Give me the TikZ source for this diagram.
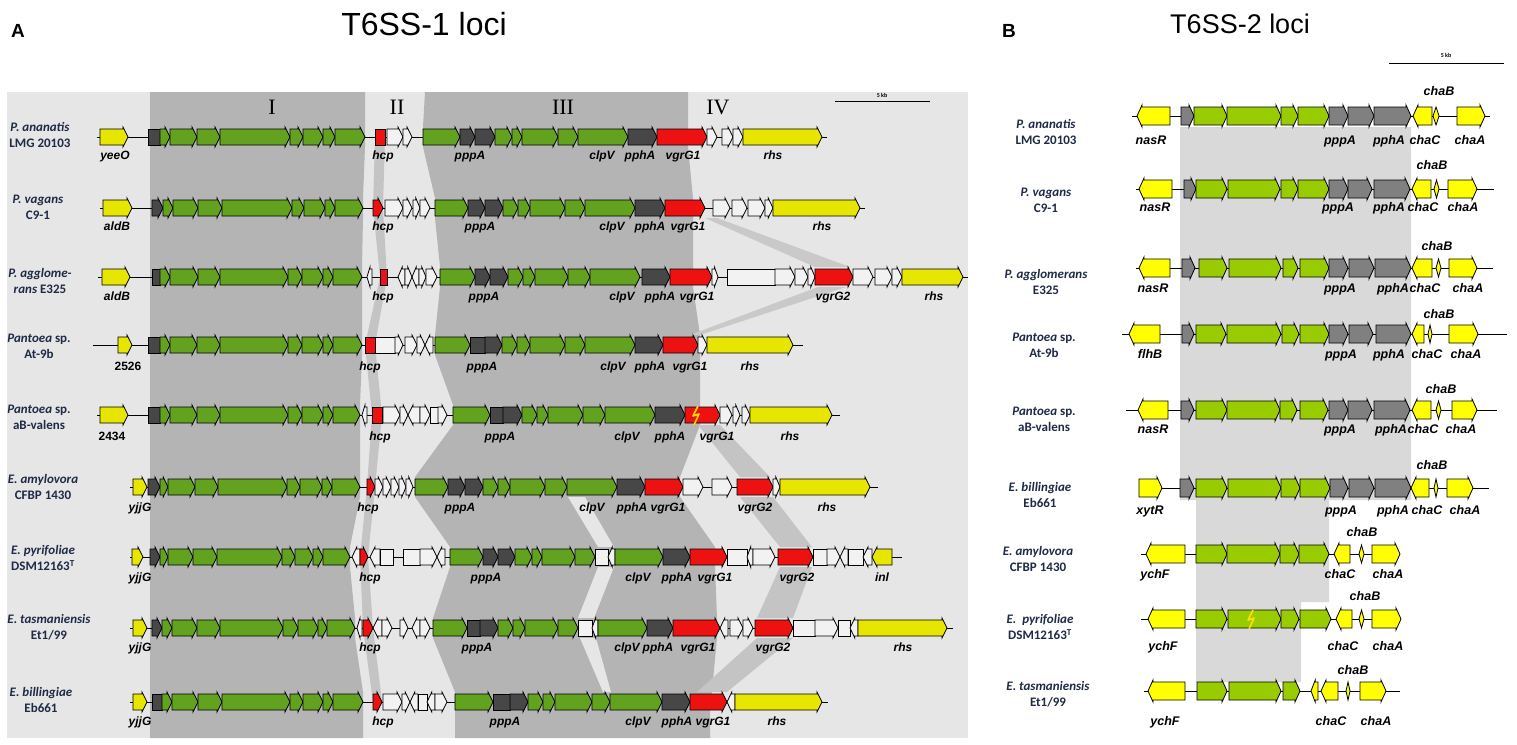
\documentclass[tikz,border=0pt]{standalone}
\usepackage{fontspec}
\setmainfont{Liberation Sans}
\newfontfamily\calfont{Carlito}
\newfontfamily\romfont{Liberation Serif}

\definecolor{bgA}{HTML}{E6E6E6}
\definecolor{shadeA}{HTML}{B4B4B4}
\definecolor{bandA}{HTML}{C4C4C4}
\definecolor{shadeB}{HTML}{D9D9D9}
\definecolor{gA}{HTML}{62A21E}
\definecolor{kA}{HTML}{474747}
\definecolor{rA}{HTML}{EE1111}
\definecolor{wA}{HTML}{F2F2F2}
\definecolor{yA}{HTML}{E6E600}
\definecolor{gB}{HTML}{99CC00}
\definecolor{kB}{HTML}{808080}
\definecolor{yB}{HTML}{FFFF00}
\definecolor{spc}{HTML}{1E2A46}
\definecolor{boltc}{HTML}{FFE000}

\tikzset{
  genebox/.style={draw=black, line width=0.8pt, line join=miter},
  backbone/.style={draw=black, line width=0.9pt},
  glab/.style={font=\bfseries\itshape\fontsize{12}{13}\selectfont, inner sep=0pt, text height=8.5pt, text depth=2.5pt},
  glabB/.style={font=\bfseries\itshape\fontsize{12.5}{13}\selectfont, inner sep=0pt, text height=9pt, text depth=3pt},
  spec/.style={font=\calfont\bfseries\fontsize{13}{16}\selectfont, text=spc, align=center, inner sep=0pt},
  region/.style={font=\romfont\fontsize{22}{24}\selectfont, inner sep=0pt},
  title/.style={font=\fontsize{32}{34}\selectfont, inner sep=0pt},
  panel/.style={font=\bfseries\fontsize{19}{20}\selectfont, inner sep=0pt},
  sbtext/.style={font=\calfont\bfseries\fontsize{6}{7}\selectfont, inner sep=0pt},
  boltline/.style={draw=boltc, line width=1.6pt, line join=round},
}

% gene arrow: x1, x2, y, colour, r/l/b/d
\newcommand{\gene}[5]{%
  \pgfmathsetmacro{\hd}{min(5,0.6*(#2-#1))}%
  \if r#5
    \draw[genebox,fill=#4] (#1,#3-\hh) -- (#2-\hd,#3-\hh) -- (#2-\hd,#3-\hh-2) -- (#2,#3)
      -- (#2-\hd,#3+\hh+2) -- (#2-\hd,#3+\hh) -- (#1,#3+\hh) -- cycle;
  \fi
  \if l#5
    \draw[genebox,fill=#4] (#2,#3-\hh) -- (#1+\hd,#3-\hh) -- (#1+\hd,#3-\hh-2) -- (#1,#3)
      -- (#1+\hd,#3+\hh+2) -- (#1+\hd,#3+\hh) -- (#2,#3+\hh) -- cycle;
  \fi
  \if b#5
    \draw[genebox,fill=#4] (#1,#3-\hh) rectangle (#2,#3+\hh);
  \fi
  \if d#5
    \draw[genebox,fill=#4] (#1,#3) -- ({(#1+#2)/2},#3-\hh) -- (#2,#3) -- ({(#1+#2)/2},#3+\hh) -- cycle;
  \fi
}
\newcommand{\bolt}[2]{\draw[boltline] (#1+2,#2-9) -- (#1-3,#2+1) -- (#1+3,#2-1) -- (#1-2,#2+10);}

\begin{document}
\begin{tikzpicture}[x=1pt, y=-1pt]
\useasboundingbox (0,0) rectangle (1517,744);
\fill[white] (0,0) rectangle (1517,744);

% ---------------- panel A ----------------
\node[panel] (lblA) at (18,31) {A};
\node[title] (titleA) at (424,24) {T6SS-1 loci};

\fill[bgA] (7,92) rectangle (968,738);
% region I
\fill[shadeA] (150,92) -- (365,92) -- (365,147) -- (363,198) -- (363,218) -- (362,267) -- (362,355)
  -- (360,405) -- (360,497) -- (350,547) -- (350,567) -- (355,618) -- (355,638) -- (363,692)
  -- (363,738) -- (150,738) -- cycle;
% region III
\fill[shadeA] (425,92) -- (423,127) -- (423,147) -- (435,198) -- (435,218) -- (440,267) -- (440,287)
  -- (435,335) -- (435,355) -- (453,405) -- (453,425) -- (415,477) -- (415,497) -- (450,547)
  -- (450,567) -- (433,618) -- (433,638) -- (455,692) -- (455,738) -- (710,738) -- (710,712)
  -- (717,638) -- (717,618) -- (715,567) -- (715,547) -- (680,497) -- (680,477) -- (700,425)
  -- (700,335) -- (693,287) -- (693,198) -- (688,147) -- (688,92) -- cycle;
\fill[bgA] (568,497) -- (585,497) -- (614,547) -- (598,547) -- cycle;
\fill[bgA] (598,567) -- (614,567) -- (594,618) -- (578,618) -- cycle;
\fill[bgA] (580,638) -- (596,638) -- (611,692) -- (603,692) -- cycle;
% hcp band
\fill[bandA] (375,137) -- (373,208) -- (380,277) -- (365,345) -- (372,415) -- (367,487) -- (360,557)
  -- (363,628) -- (373,702) -- (382,702) -- (373,628) -- (368,557) -- (375,487) -- (382,415)
  -- (375,345) -- (387,277) -- (383,208) -- (385,137) -- cycle;
% vgrG bands
\fill[bandA!85!bgA] (705,218) -- (717,218) -- (850,267) -- (815,267) -- cycle;
\fill[bandA!85!bgA] (818,287) -- (846,287) -- (700,335) -- (690,335) -- cycle;
\fill[bandA] (698,425) -- (720,425) -- (770,477) -- (740,477) -- cycle;
\fill[bandA] (740,497) -- (773,497) -- (812,547) -- (780,547) -- cycle;
\fill[bandA] (780,567) -- (812,567) -- (793,618) -- (757,618) -- cycle;
\fill[bandA] (757,638) -- (793,638) -- (727,692) -- (697,692) -- cycle;

\node[region] (regI) at (272,107) {I};
\node[region] (regII) at (397,107) {II};
\node[region] (regIII) at (563,107) {III};
\node[region] (regIV) at (718,107) {IV};
\coordinate (sbA1) at (835,101);
\coordinate (sbA2) at (930,101);
\draw[line width=1pt] (sbA1) -- (sbA2);
\node[sbtext] (sbAt) at (882,95) {5 kb};

\def\hh{8}
% row 1
\draw[backbone] (97,137) -- (827,137);
\foreach \xa/\xb/\cl/\dr in {100/128/yA/r, 148/160/kA/b, 160/170/gA/r, 170/197/gA/r, 197/220/gA/r,
  220/290/gA/r, 290/303/gA/r, 303/323/gA/r, 323/335/gA/r, 335/365/gA/r, 375/385/rA/b, 387/403/wA/r,
  403/412/wA/r, 423/460/gA/r, 460/475/kA/r, 475/495/kA/r, 495/512/gA/r, 512/522/gA/r, 522/558/gA/r,
  558/578/gA/r, 578/628/gA/r, 628/657/kA/r, 657/707/rA/r, 707/717/wA/r, 722/733/wA/r, 733/743/wA/r,
  743/822/yA/r}
  {\gene{\xa}{\xb}{137}{\cl}{\dr}}
\foreach \xl/\tl [count=\i] in {115/yeeO, 383/hcp, 470/pppA, 602/clpV, 640/pphA, 683/vgrG1, 773/rhs}
  {\node[glab] (a1-\i) at (\xl,156) {\tl};}
\node[spec] (spA1) at (40,135) {\textit{P. ananatis}\\LMG 20103};

% row 2
\draw[backbone] (100,208) -- (865,208);
\foreach \xa/\xb/\cl/\dr in {103/132/yA/r, 152/163/kA/r, 163/173/gA/r, 173/198/gA/r, 198/222/gA/r,
  222/292/gA/r, 292/304/gA/r, 304/325/gA/r, 325/335/gA/r, 335/363/gA/r, 373/383/rA/r, 385/403/wA/r,
  403/412/wA/r, 413/420/wA/r, 420/430/wA/r, 435/468/gA/r, 468/485/kA/r, 485/503/kA/r, 503/518/gA/r,
  518/530/gA/r, 530/565/gA/r, 565/585/gA/r, 585/635/gA/r, 635/665/kA/r, 665/705/rA/r, 713/730/wA/r,
  732/747/wA/r, 748/765/wA/r, 765/773/wA/r, 773/860/yA/r}
  {\gene{\xa}{\xb}{208}{\cl}{\dr}}
\foreach \xl/\tl [count=\i] in {117/aldB, 383/hcp, 480/pppA, 612/clpV, 650/pphA, 688/vgrG1, 822/rhs}
  {\node[glab] (a2-\i) at (\xl,227) {\tl};}
\node[spec] (spA2) at (38,207) {\textit{P. vagans}\\C9-1};

% row 3
\draw[backbone] (98,277) -- (968,277);
\foreach \xa/\xb/\cl/\dr in {102/130/yA/r, 152/160/kA/b, 160/170/gA/r, 170/198/gA/r, 198/220/gA/r,
  220/288/gA/r, 288/302/gA/r, 302/323/gA/r, 323/333/gA/r, 333/362/gA/r, 367/372/wA/l, 380/387/rA/b,
  398/405/wA/l, 405/412/wA/r, 412/419/wA/l, 419/426/wA/r, 426/437/wA/r, 440/475/gA/r, 475/490/kA/r,
  490/508/kA/r, 508/523/gA/r, 523/535/gA/r, 535/568/gA/r, 568/590/gA/r, 590/640/gA/r, 642/670/kA/r,
  670/712/rA/r, 712/718/wA/r, 727/775/wA/b, 775/795/wA/r, 795/808/wA/r, 808/815/wA/r, 815/853/rA/r,
  853/873/wA/r, 875/892/wA/r, 892/902/wA/r, 902/963/yA/r}
  {\gene{\xa}{\xb}{277}{\cl}{\dr}}
\foreach \xl/\tl [count=\i] in {117/aldB, 383/hcp, 484/pppA, 622/clpV, 660/pphA, 697/vgrG1, 833/vgrG2, 934/rhs}
  {\node[glab] (a3-\i) at (\xl,297) {\tl};}
\node[spec] (spA3) at (40,281) {\textit{P. agglome-}\\\textit{rans} E325};

% row 4
\draw[backbone] (93,345) -- (803,345);
\foreach \xa/\xb/\cl/\dr in {118/132/yA/r, 148/160/kA/b, 160/170/gA/r, 170/197/gA/r, 197/220/gA/r,
  220/288/gA/r, 288/302/gA/r, 302/323/gA/r, 323/333/gA/r, 333/362/gA/r, 365/375/rA/b, 375/395/wA/b,
  395/403/wA/r, 405/417/wA/r, 417/425/wA/r, 425/433/wA/l, 435/470/gA/r, 470/485/kA/b, 485/502/kA/r,
  502/517/gA/r, 517/530/gA/r, 530/565/gA/r, 565/585/gA/r, 585/635/gA/r, 635/663/kA/r, 663/698/rA/r,
  698/707/wA/r, 707/793/yA/r}
  {\gene{\xa}{\xb}{345}{\cl}{\dr}}
\foreach \xl/\tl [count=\i] in {128/{\upshape 2526}, 370/hcp, 482/pppA, 613/clpV, 650/pphA, 690/vgrG1, 750/rhs}
  {\node[glab] (a4-\i) at (\xl,367) {\tl};}
\node[spec] (spA4) at (39,346) {\textit{Pantoea} sp.\\At-9b};

% row 5
\draw[backbone] (97,415) -- (840,415);
\foreach \xa/\xb/\cl/\dr in {100/128/yA/r, 148/160/kA/b, 160/170/gA/r, 170/197/gA/r, 197/220/gA/r,
  220/288/gA/r, 288/302/gA/r, 302/323/gA/r, 323/333/gA/r, 333/360/gA/r, 362/367/wA/l, 372/382/rA/b,
  383/400/wA/r, 400/408/wA/r, 408/420/wA/l, 420/430/wA/r, 430/438/wA/b, 438/447/wA/r, 453/490/gA/r,
  490/503/kA/b, 503/522/kA/r, 522/537/gA/r, 537/548/gA/r, 548/583/gA/r, 583/605/gA/r, 605/655/gA/r,
  655/685/kA/r, 685/720/rA/r, 720/732/wA/r, 733/740/wA/r, 742/750/wA/r, 750/832/yA/r}
  {\gene{\xa}{\xb}{415}{\cl}{\dr}}
\bolt{696}{415}
\foreach \xl/\tl [count=\i] in {112/{\upshape 2434}, 380/hcp, 500/pppA, 627/clpV, 670/pphA, 717/vgrG1, 790/rhs}
  {\node[glab] (a5-\i) at (\xl,437) {\tl};}
\node[spec] (spA5) at (39,417) {\textit{Pantoea} sp.\\aB-valens};

% row 6
\draw[backbone] (130,487) -- (878,487);
\foreach \xa/\xb/\cl/\dr in {133/147/yA/r, 148/160/kA/r, 160/168/gA/r, 168/195/gA/r, 195/218/gA/r,
  218/287/gA/r, 287/300/gA/r, 300/322/gA/r, 322/332/gA/r, 332/360/gA/r, 367/375/rA/r, 375/383/wA/r,
  383/391/wA/r, 391/399/wA/r, 399/406/wA/r, 406/413/wA/r, 415/448/gA/r, 448/465/kA/r, 465/483/kA/r,
  483/498/gA/r, 498/510/gA/r, 510/545/gA/r, 545/567/gA/r, 567/617/gA/r, 617/645/kA/r, 645/683/rA/r,
  683/703/wA/r, 712/732/wA/r, 737/773/rA/r, 773/780/wA/r, 780/870/yA/r}
  {\gene{\xa}{\xb}{487}{\cl}{\dr}}
\foreach \xl/\tl [count=\i] in {140/yjjG, 368/hcp, 460/pppA, 592/clpV, 632/pphA, 668/vgrG1, 755/vgrG2, 827/rhs}
  {\node[glab] (a6-\i) at (\xl,508) {\tl};}
\node[spec] (spA6) at (43,487) {\textit{E. amylovora}\\CFBP 1430};

% row 7
\draw[backbone] (130,557) -- (902,557);
\foreach \xa/\xb/\cl/\dr in {132/143/yA/r, 150/160/kA/r, 160/168/gA/r, 168/193/gA/r, 193/217/gA/r,
  217/282/gA/r, 282/295/gA/r, 295/313/gA/r, 313/323/gA/r, 323/350/gA/r, 352/360/wA/l, 360/368/rA/r,
  370/380/wA/l, 380/393/wA/b, 403/420/wA/b, 420/437/wA/r, 437/445/wA/l, 450/483/gA/r, 483/498/kA/r,
  498/515/kA/r, 515/532/gA/r, 532/542/gA/r, 542/575/gA/r, 575/595/gA/r, 595/608/wA/b, 608/615/wA/l,
  615/663/gA/r, 663/690/kA/r, 690/727/rA/r, 727/747/wA/b, 747/753/wA/l, 753/775/wA/r, 778/813/rA/r,
  813/827/wA/b, 827/840/wA/r, 840/848/wA/l, 848/863/wA/b, 863/872/wA/l, 872/892/yA/l}
  {\gene{\xa}{\xb}{557}{\cl}{\dr}}
\foreach \xl/\tl [count=\i] in {140/yjjG, 370/hcp, 486/pppA, 638/clpV, 677/pphA, 715/vgrG1, 797/vgrG2, 882/inl}
  {\node[glab] (a7-\i) at (\xl,578) {\tl};}
\node[spec] (spA7) at (43,558) {\textit{E. pyrifoliae}\\DSM12163\textsuperscript{T}};

% row 8
\draw[backbone] (130,628) -- (953,628);
\foreach \xa/\xb/\cl/\dr in {133/147/yA/r, 152/162/kA/r, 162/172/gA/r, 172/197/gA/r, 197/220/gA/r,
  220/283/gA/r, 283/298/gA/r, 298/318/gA/r, 318/327/gA/r, 327/355/gA/r, 357/362/wA/l, 363/373/rA/r,
  373/382/wA/l, 382/392/wA/r, 400/408/wA/r, 412/420/wA/l, 420/430/wA/r, 433/467/gA/r, 467/480/kA/b,
  480/498/kA/r, 498/513/gA/r, 513/525/gA/r, 525/558/gA/r, 558/578/gA/r, 578/592/wA/b, 592/598/wA/l,
  598/647/gA/r, 647/673/kA/r, 673/720/rA/r, 720/728/wA/l, 730/743/wA/r, 743/753/wA/r, 755/793/rA/r,
  793/815/wA/b, 815/838/wA/r, 838/850/wA/b, 850/858/wA/l, 858/947/yA/r}
  {\gene{\xa}{\xb}{628}{\cl}{\dr}}
\foreach \xl/\tl [count=\i] in {140/yjjG, 370/hcp, 477/pppA, 627/clpV, 658/pphA, 698/vgrG1, 773/vgrG2, 903/rhs}
  {\node[glab] (a8-\i) at (\xl,648) {\tl};}
\node[spec] (spA8) at (49,627) {\textit{E. tasmaniensis}\\Et1/99};

% row 9
\draw[backbone] (130,702) -- (828,702);
\foreach \xa/\xb/\cl/\dr in {133/147/yA/r, 152/162/kA/b, 162/172/gA/r, 172/198/gA/r, 198/222/gA/r,
  222/290/gA/r, 290/303/gA/r, 303/323/gA/r, 323/333/gA/r, 333/363/gA/r, 373/382/rA/r, 383/402/wA/r,
  402/410/wA/r, 410/418/wA/l, 418/427/wA/b, 427/435/wA/l, 435/447/wA/r, 455/493/gA/r, 493/510/kA/b,
  510/528/kA/r, 528/543/gA/r, 543/555/gA/r, 555/592/gA/r, 592/610/gA/r, 610/662/gA/r, 662/690/kA/r,
  690/727/rA/r, 727/735/wA/l, 735/822/yA/r}
  {\gene{\xa}{\xb}{702}{\cl}{\dr}}
\foreach \xl/\tl [count=\i] in {140/yjjG, 383/hcp, 505/pppA, 638/clpV, 677/pphA, 713/vgrG1, 777/rhs}
  {\node[glab] (a9-\i) at (\xl,722) {\tl};}
\node[spec] (spA9) at (41,700) {\textit{E. billingiae}\\Eb661};

% ---------------- panel B ----------------
\node[panel] (lblB) at (1009,31) {B};
\node[title, font=\fontsize{27}{30}\selectfont] (titleB) at (1240,24) {T6SS-2 loci};
\coordinate (sbB1) at (1389,63);
\coordinate (sbB2) at (1504,63);
\draw[line width=1pt] (sbB1) -- (sbB2);
\node[sbtext] (sbBt) at (1446,55) {5 kb};

\fill[shadeB] (1180,127) -- (1411,127) -- (1411,500) -- (1329,500) -- (1329,602) -- (1301,602)
  -- (1301,682) -- (1196,682) -- (1196,500) -- (1180,500) -- cycle;

\def\hh{9}
% row B1
\draw[backbone] (1132,116) -- (1490,116);
\foreach \xa/\xb/\cl/\dr in {1137/1170/yB/l, 1181/1194/kB/r, 1194/1227/gB/r, 1227/1281/gB/r,
  1281/1298/gB/r, 1298/1329/gB/r, 1329/1348/kB/r, 1348/1374/kB/r, 1374/1411/kB/r, 1413/1432/yB/l,
  1433/1439/yB/d, 1457/1485/yB/r}
  {\gene{\xa}{\xb}{116}{\cl}{\dr}}
\foreach \xl/\tl [count=\i] in {1151/nasR, 1340/pppA, 1389/pphA, 1425/chaC, 1470/chaA}
  {\node[glabB] (b1-\i) at (\xl,141) {\tl};}
\node[glabB] (b1-chaB) at (1439,92) {chaB};
\node[spec] (spB1) at (1046,132) {\textit{P. ananatis}\\LMG 20103};

% row B2
\draw[backbone] (1136,189) -- (1494,189);
\foreach \xa/\xb/\cl/\dr in {1139/1172/yB/l, 1184/1196/kB/r, 1196/1227/gB/r, 1228/1280/gB/r,
  1281/1298/gB/r, 1298/1329/gB/r, 1329/1348/kB/r, 1348/1372/kB/r, 1374/1410/kB/r, 1412/1431/yB/l,
  1434/1439/yB/d, 1448/1477/yB/r}
  {\gene{\xa}{\xb}{189}{\cl}{\dr}}
\foreach \xl/\tl [count=\i] in {1155/nasR, 1338/pppA, 1389/pphA, 1423/chaC, 1463/chaA}
  {\node[glabB] (b2-\i) at (\xl,208) {\tl};}
\node[glabB] (b2-chaB) at (1432,166) {chaB};
\node[spec] (spB2) at (1046,200) {\textit{P. vagans}\\C9-1};

% row B3
\draw[backbone] (1136,268) -- (1493,268);
\foreach \xa/\xb/\cl/\dr in {1139/1170/yB/l, 1182/1195/kB/r, 1199/1227/gB/r, 1229/1281/gB/r,
  1283/1298/gB/r, 1300/1329/gB/r, 1329/1348/kB/r, 1349/1374/kB/r, 1375/1411/kB/r, 1412/1432/yB/l,
  1436/1441/yB/d, 1449/1477/yB/r}
  {\gene{\xa}{\xb}{268}{\cl}{\dr}}
\foreach \xl/\tl [count=\i] in {1153/nasR, 1340/pppA, 1393/pphA, 1425/chaC, 1468/chaA}
  {\node[glabB] (b3-\i) at (\xl,289) {\tl};}
\node[glabB] (b3-chaB) at (1437,247) {chaB};
\node[spec] (spB3) at (1046,282) {\textit{P. agglomerans}\\E325};

% row B4
\draw[backbone] (1122,334) -- (1507,334);
\foreach \xa/\xb/\cl/\dr in {1129/1160/yB/l, 1182/1194/kB/r, 1196/1226/gB/r, 1227/1281/gB/r,
  1282/1299/gB/r, 1300/1329/gB/r, 1329/1348/kB/r, 1349/1373/kB/r, 1376/1411/kB/r, 1412/1424/yB/l,
  1428/1432/yB/d, 1449/1478/yB/r}
  {\gene{\xa}{\xb}{334}{\cl}{\dr}}
\foreach \xl/\tl [count=\i] in {1150/flhB, 1341/pppA, 1389/pphA, 1427/chaC, 1466/chaA}
  {\node[glabB] (b4-\i) at (\xl,355) {\tl};}
\node[glabB] (b4-chaB) at (1439,315) {chaB};
\node[spec] (spB4) at (1044,345) {\textit{Pantoea} sp.\\At-9b};

% row B5
\draw[backbone] (1126,410) -- (1497,410);
\foreach \xa/\xb/\cl/\dr in {1138/1168/yB/l, 1181/1194/kB/r, 1196/1227/gB/r, 1227/1280/gB/r,
  1280/1297/gB/r, 1300/1328/gB/r, 1329/1348/kB/r, 1348/1372/kB/r, 1374/1410/kB/r, 1412/1431/yB/l,
  1436/1441/yB/d, 1452/1477/yB/r}
  {\gene{\xa}{\xb}{410}{\cl}{\dr}}
\foreach \xl/\tl [count=\i] in {1153/nasR, 1340/pppA, 1391/pphA, 1423/chaC, 1461/chaA}
  {\node[glabB] (b5-\i) at (\xl,430) {\tl};}
\node[glabB] (b5-chaB) at (1441,390) {chaB};
\node[spec] (spB5) at (1044,419) {\textit{Pantoea} sp.\\aB-valens};

% row B6
\draw[backbone] (1139,488) -- (1489,488);
\foreach \xa/\xb/\cl/\dr in {1139/1162/yB/r, 1180/1194/kB/r, 1196/1227/gB/r, 1228/1281/gB/r,
  1281/1300/gB/r, 1300/1330/gB/r, 1330/1348/kB/r, 1349/1374/kB/r, 1375/1411/kB/r, 1411/1429/yB/l,
  1434/1438/yB/d, 1447/1473/yB/r}
  {\gene{\xa}{\xb}{488}{\cl}{\dr}}
\foreach \xl/\tl [count=\i] in {1150/xytR, 1341/pppA, 1393/pphA, 1427/chaC, 1465/chaA}
  {\node[glabB] (b6-\i) at (\xl,511) {\tl};}
\node[glabB] (b6-chaB) at (1432,466) {chaB};
\node[spec] (spB6) at (1040,495) {\textit{E. billingiae}\\Eb661};

% row B7
\draw[backbone] (1141,554) -- (1400,554);
\foreach \xa/\xb/\cl/\dr in {1146/1185/yB/l, 1196/1227/gB/r, 1227/1280/gB/r, 1280/1299/gB/r,
  1299/1329/gB/r, 1334/1350/yB/l, 1359/1364/yB/d, 1372/1400/yB/r}
  {\gene{\xa}{\xb}{554}{\cl}{\dr}}
\foreach \xl/\tl [count=\i] in {1155/ychF, 1340/chaC, 1388/chaA}
  {\node[glabB] (b7-\i) at (\xl,575) {\tl};}
\node[glabB] (b7-chaB) at (1362,533) {chaB};
\node[spec] (spB7) at (1038,559) {\textit{E. amylovora}\\CFBP 1430};

% row B8
\draw[backbone] (1141,619) -- (1401,619);
\foreach \xa/\xb/\cl/\dr in {1148/1185/yB/l, 1196/1227/gB/r, 1228/1281/gB/r, 1281/1299/gB/r,
  1300/1331/gB/r, 1336/1352/yB/l, 1359/1364/yB/d, 1372/1401/yB/r}
  {\gene{\xa}{\xb}{619}{\cl}{\dr}}
\bolt{1251}{619}
\foreach \xl/\tl [count=\i] in {1163/ychF, 1343/chaC, 1388/chaA}
  {\node[glabB] (b8-\i) at (\xl,647) {\tl};}
\node[glabB] (b8-chaB) at (1365,597) {chaB};
\node[spec] (spB8) at (1040,627) {\textit{E.~ pyrifoliae}\\DSM12163\textsuperscript{T}};

% row B9
\draw[backbone] (1144,691) -- (1400,691);
\foreach \xa/\xb/\cl/\dr in {1148/1185/yB/l, 1197/1227/gB/r, 1229/1281/gB/r, 1283/1300/gB/r,
  1311/1318/yB/l, 1321/1338/yB/l, 1346/1350/yB/d, 1360/1386/yB/r}
  {\gene{\xa}{\xb}{691}{\cl}{\dr}}
\foreach \xl/\tl [count=\i] in {1165/ychF, 1331/chaC, 1376/chaA}
  {\node[glabB] (b9-\i) at (\xl,722) {\tl};}
\node[glabB] (b9-chaB) at (1353,671) {chaB};
\node[spec] (spB9) at (1048,694) {\textit{E. tasmaniensis}\\Et1/99};
\end{tikzpicture}
\end{document}
